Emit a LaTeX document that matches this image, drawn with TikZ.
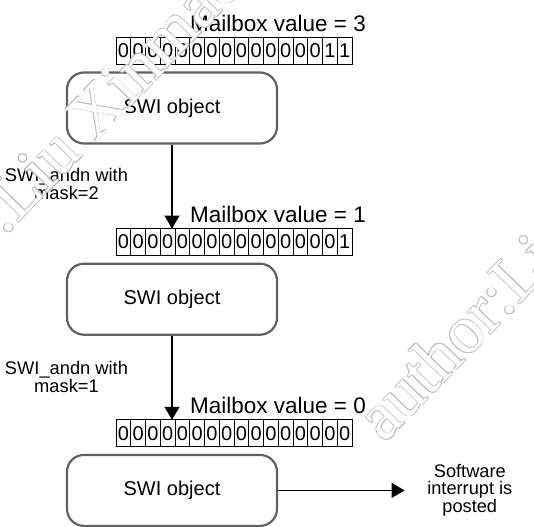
\documentclass[tikz,border=0pt]{standalone}
\usepackage{fontspec}
\setmainfont{Liberation Sans}
\newfontfamily\wmfont{Liberation Serif}
\usetikzlibrary{positioning,arrows.meta}

\begin{document}
\begin{tikzpicture}[
  swibox/.style={rectangle, draw=black!62, line width=2.2bp, rounded corners=17bp, minimum width=210bp, minimum height=71bp, font=\fontsize{20bp}{24bp}\selectfont},
  regrow/.style={rectangle, minimum width=236bp, minimum height=27bp, inner sep=0pt, outer sep=0pt},
  bit/.style={rectangle, draw, line width=0.9bp, minimum width=14.75bp, minimum height=27bp, inner sep=0pt, outer sep=0pt, anchor=west, font=\fontsize{20bp}{24bp}\selectfont},
  valtext/.style={inner sep=0pt, font=\fontsize{22.5bp}{27bp}\selectfont},
  cmdtext/.style={align=center, inner sep=0pt, font=\fontsize{18.3bp}{18.5bp}\selectfont},
  outtext/.style={align=center, inner sep=0pt, font=\fontsize{18.2bp}{16.5bp}\selectfont},
  flow/.style={-{Triangle[width=15bp,length=13bp]}, line width=1.2bp},
  wmark/.style={rotate=46, anchor=west, inner sep=0pt, font=\wmfont\fontsize{68bp}{68bp}\selectfont}
]
\clip (0,0) rectangle (534bp,-527bp);

% SWI objects
\node[swibox] (obj1) at (172bp,-108bp) {SWI object};
\node[swibox, below=118bp of obj1] (obj2) {SWI object};
\node[swibox, below=118bp of obj2] (obj3) {SWI object};

% mailbox registers
\node[regrow, above=7bp of obj1, xshift=62bp] (reg1) {};
\node[regrow, above=7bp of obj2, xshift=62bp] (reg2) {};
\node[regrow, above=7bp of obj3, xshift=62bp] (reg3) {};
\foreach \b [count=\i from 0] in {0,0,0,0,0,0,0,0,0,0,0,0,0,0,1,1}
  \node[bit, xshift=\i*14.75bp] (reg1-\i) at (reg1.west) {\b};
\foreach \b [count=\i from 0] in {0,0,0,0,0,0,0,0,0,0,0,0,0,0,0,1}
  \node[bit, xshift=\i*14.75bp] (reg2-\i) at (reg2.west) {\b};
\foreach \b [count=\i from 0] in {0,0,0,0,0,0,0,0,0,0,0,0,0,0,0,0}
  \node[bit, xshift=\i*14.75bp] (reg3-\i) at (reg3.west) {\b};

\node[valtext, above=6bp of reg1.north west, anchor=base west, xshift=74bp] (val1) {Mailbox value = 3};
\node[valtext, above=6bp of reg2.north west, anchor=base west, xshift=74bp] (val2) {Mailbox value = 1};
\node[valtext, above=6bp of reg3.north west, anchor=base west, xshift=74bp] (val3) {Mailbox value = 0};

% operations
\node[cmdtext] (cmd1) at ([shift={(-105.5bp,-76bp)}]obj1) {SWI\_andn with\\mask=2};
\node[cmdtext] (cmd2) at ([shift={(-105.5bp,-78bp)}]obj2) {SWI\_andn with\\mask=1};
\node[outtext, right=149bp of obj3] (posted) {Software\\interrupt is\\posted};

\draw[flow] (obj1) -- (obj1.south |- reg2.north);
\draw[flow] (obj2) -- (obj2.south |- reg3.north);
\draw[flow, shorten >=22.5bp] (obj3) -- (posted);

% watermark
\coordinate (wmA) at (-133bp,-346bp);
\coordinate (wmB) at (368bp,-428bp);
\foreach \a in {0,45,...,315} {
  \node[wmark, text=black!25] (wmA-\a) at ([shift={(\a:0.8bp)}]wmA) {author:Liu Xinmao};
  \node[wmark, text=black!25] (wmB-\a) at ([shift={(\a:0.8bp)}]wmB) {author:Liu Xinmao};
}
\node[wmark, text=white] (wmA-text) at (wmA) {author:Liu Xinmao};
\node[wmark, text=white] (wmB-text) at (wmB) {author:Liu Xinmao};
\end{tikzpicture}
\end{document}
